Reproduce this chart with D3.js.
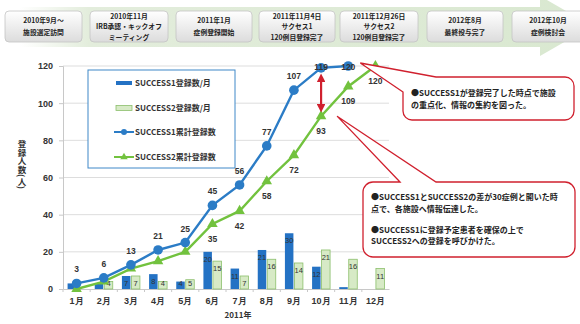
<!DOCTYPE html>
<html>
<head>
<meta charset="utf-8">
<script src="https://cdn.jsdelivr.net/npm/d3@7/dist/d3.min.js"></script>
<style>
  html, body { margin: 0; padding: 0; background: #fff; }
  svg { display: block; font-family: "Noto Sans CJK JP", "Noto Sans", sans-serif; }
</style>
</head>
<body>
<svg id="chart" width="580" height="324"></svg>
<script>
// Monthly registrations and running totals, 2011
const months = ["1月","2月","3月","4月","5月","6月","7月","8月","9月","10月","11月","12月"];
const s1Monthly = [3, 3, 7, 8, 4, 20, 11, 21, 30, 12, 1, 0];
const s2Monthly = [0, 4, 7, 4, 5, 15, 7, 16, 14, 21, 16, 11];
const s1Cumulative = [3, 6, 13, 21, 25, 45, 56, 77, 107, 119, 120];
const s2Cumulative = [0, 4, 11, 15, 20, 35, 42, 58, 72, 93, 109, 120];
const yTicks = [0, 20, 40, 60, 80, 100, 120];

// Project milestones shown in the arrow band
const milestones = [
  ["2010年9月～", "施設選定訪問"],
  ["2010年11月", "IRB承認・キックオフ", "ミーティング"],
  ["2011年1月", "症例登録開始"],
  ["2011年11月4日", "サクセス1", "120例目登録完了"],
  ["2011年12月26日", "サクセス2", "120例目登録完了"],
  ["2012年8月", "最終投与完了"],
  ["2012年10月", "症例検討会"]
];
const milestoneX = [5, 90, 176, 259, 340, 427, 512];
const milestoneW = [77, 78, 76, 76, 78, 76, 72];

const legendLabels = ["SUCCESS1登録数/月", "SUCCESS2登録数/月", "SUCCESS1累計登録数", "SUCCESS2累計登録数"];

const noteTop = ["●SUCCESS1が登録完了した時点で施設", "の重点化、情報の集約を図った。"];
const noteBottom = ["●SUCCESS1とSUCCESS2の差が30症例と開いた時", "点で、各施設へ情報伝達した。", "", "●SUCCESS1に登録予定患者を確保の上で", "SUCCESS2への登録を呼びかけた。"];

const blue = "#2b7cc6", blueBar = "#2472c4";
const green = "#72c23e", greenFill = "#d7eac6", greenStroke = "#8cbf6c";
const red = "#d0202e";

const svg = d3.select("#chart");
const defs = svg.append("defs");

// ---------- milestone band ----------
const bandGrad = defs.append("linearGradient").attr("id", "band").attr("x1", 0).attr("x2", 1);
bandGrad.append("stop").attr("offset", "0%").attr("stop-color", "#ffffff");
bandGrad.append("stop").attr("offset", "12%").attr("stop-color", "#e3eddc");
bandGrad.append("stop").attr("offset", "100%").attr("stop-color", "#d9e8d0");
svg.append("path")
  .attr("d", "M20,7 L540,7 L540,-4 L592,26 L540,56 L540,47 L20,47 Z")
  .attr("fill", "url(#band)");

const boxGrad = defs.append("linearGradient").attr("id", "box").attr("x1", 0).attr("x2", 0).attr("y1", 0).attr("y2", 1);
boxGrad.append("stop").attr("offset", "0%").attr("stop-color", "#ffffff");
boxGrad.append("stop").attr("offset", "100%").attr("stop-color", "#dcdcdc");

const ms = svg.append("g").selectAll("g").data(milestones).join("g")
  .attr("transform", (d, i) => `translate(${milestoneX[i]},11)`);
ms.append("rect")
  .attr("width", (d, i) => milestoneW[i]).attr("height", 31).attr("rx", 4)
  .attr("fill", "url(#box)").attr("stroke", "#c4c4c4").attr("stroke-width", 0.8);
ms.each(function (d, i) {
  const g = d3.select(this);
  const lineGap = d.length === 3 ? 10.5 : 12;
  const start = 15.5 - (d.length - 1) * lineGap / 2 + 2.5;
  d.forEach((t, j) => {
    g.append("text")
      .attr("x", milestoneW[i] / 2).attr("y", start + j * lineGap)
      .attr("text-anchor", "middle").attr("font-size", 6.8).attr("font-weight", "bold")
      .attr("fill", "#222").text(t);
  });
});

// ---------- scales ----------
const x = d3.scaleBand().domain(months).range([63, 389]).padding(0);
const y = d3.scaleLinear().domain([0, 120]).range([289, 66]);
const cx = m => x(m) + x.bandwidth() / 2;

// grid
svg.append("g").selectAll("line").data(yTicks.filter(t => t > 0)).join("line")
  .attr("x1", 63).attr("x2", 389).attr("y1", d => y(d)).attr("y2", d => y(d))
  .attr("stroke", "#d4d4d4").attr("stroke-width", 0.8);

// axes
const yAxis = svg.append("g").attr("transform", "translate(63,0)")
  .call(d3.axisLeft(y).tickValues(yTicks).tickSize(4).tickPadding(6));
yAxis.select(".domain").attr("stroke", "#c8c8c8");
yAxis.selectAll(".tick line").attr("stroke", "#c8c8c8");
yAxis.selectAll("text").attr("font-size", 9).attr("font-weight", "bold").attr("fill", "#333")
  .attr("font-family", "Liberation Sans, Arial, sans-serif");

const xAxis = svg.append("g").attr("transform", "translate(0,289)")
  .call(d3.axisBottom(x).tickSize(0).tickPadding(9));
xAxis.select(".domain").attr("stroke", "#c8c8c8");
xAxis.selectAll("text").attr("font-size", 9).attr("font-weight", "bold").attr("fill", "#333");
svg.append("g").selectAll("line").data(months).join("line")
  .attr("x1", d => x(d)).attr("x2", d => x(d)).attr("y1", 289).attr("y2", 292)
  .attr("stroke", "#c8c8c8");

svg.append("text").attr("x", 238).attr("y", 318).attr("text-anchor", "middle")
  .attr("font-size", 8).attr("font-weight", "bold").attr("fill", "#333").text("2011年");

svg.append("text")
  .attr("x", 22).attr("y", 140)
  .attr("style", "writing-mode: vertical-rl")
  .attr("font-size", 8.5).attr("font-weight", "bold").attr("fill", "#333")
  .text("登録人数(人)");

// ---------- monthly bars ----------
const barW = 8.5;
svg.append("g").selectAll("rect").data(s1Monthly).join("rect")
  .attr("x", (d, i) => cx(months[i]) - barW - 0.5).attr("width", barW)
  .attr("y", d => y(d)).attr("height", d => y(0) - y(d))
  .attr("fill", blueBar);
svg.append("g").selectAll("rect").data(s2Monthly).join("rect")
  .attr("x", (d, i) => cx(months[i]) + 0.5).attr("width", barW)
  .attr("y", d => y(d)).attr("height", d => y(0) - y(d))
  .attr("fill", greenFill).attr("stroke", greenStroke).attr("stroke-width", 0.8);

const barLabel = (vals, dx) => svg.append("g").selectAll("text")
  .data(vals.map((v, i) => ({ v, i })).filter(d => d.v >= 4))
  .join("text")
  .attr("x", d => cx(months[d.i]) + dx)
  .attr("y", d => Math.min(y(d.v) + 10, 286))
  .attr("text-anchor", "middle").attr("font-size", 7.5).attr("fill", "#333")
  .attr("font-family", "Liberation Sans, Arial, sans-serif")
  .text(d => d.v);
barLabel(s1Monthly, -4.75);
barLabel(s2Monthly, 4.75);

// ---------- cumulative lines ----------
const line = d3.line().x(d => cx(d.m)).y(d => y(d.v));
const s1Pts = s1Cumulative.map((v, i) => ({ m: months[i], v }));
const s2Pts = s2Cumulative.map((v, i) => ({ m: months[i], v }));

svg.append("path").datum(s2Pts).attr("d", line)
  .attr("fill", "none").attr("stroke", green).attr("stroke-width", 2.4);
svg.append("path").datum(s1Pts).attr("d", line)
  .attr("fill", "none").attr("stroke", blue).attr("stroke-width", 2.4);

const tri = d3.symbol().type(d3.symbolTriangle).size(48);
svg.append("g").selectAll("path").data(s2Pts).join("path")
  .attr("transform", d => `translate(${cx(d.m)},${y(d.v)})`)
  .attr("d", tri).attr("fill", green);
svg.append("g").selectAll("circle").data(s1Pts).join("circle")
  .attr("cx", d => cx(d.m)).attr("cy", d => y(d.v)).attr("r", 4.8).attr("fill", blue);

// value labels (kept inside the plot top, so the last ones sit on their markers)
svg.append("g").selectAll("text").data(s1Pts).join("text")
  .attr("x", d => cx(d.m)).attr("y", d => Math.max(y(d.v) - 11, 70))
  .attr("text-anchor", "middle").attr("font-size", 8.5).attr("font-weight", "bold").attr("fill", "#333")
  .attr("font-family", "Liberation Sans, Arial, sans-serif")
  .text(d => d.v);
svg.append("g").selectAll("text").data(s2Pts.filter(d => d.v >= 35)).join("text")
  .attr("x", d => cx(d.m)).attr("y", d => y(d.v) + 18)
  .attr("text-anchor", "middle").attr("font-size", 8.5).attr("font-weight", "bold").attr("fill", "#333")
  .attr("font-family", "Liberation Sans, Arial, sans-serif")
  .text(d => d.v);

// ---------- legend ----------
const lg = svg.append("g");
lg.append("rect").attr("x", 88).attr("y", 70).attr("width", 147).attr("height", 98)
  .attr("fill", "#fff").attr("stroke", "#3f88c8").attr("stroke-width", 1);
const ly = [83, 108, 132, 157];
lg.append("rect").attr("x", 116).attr("y", ly[0] - 2).attr("width", 16).attr("height", 4).attr("fill", blueBar);
lg.append("rect").attr("x", 116).attr("y", ly[1] - 2.5).attr("width", 16).attr("height", 5)
  .attr("fill", greenFill).attr("stroke", greenStroke).attr("stroke-width", 0.8);
lg.append("line").attr("x1", 114).attr("x2", 134).attr("y1", ly[2]).attr("y2", ly[2])
  .attr("stroke", blue).attr("stroke-width", 2);
lg.append("circle").attr("cx", 124).attr("cy", ly[2]).attr("r", 3).attr("fill", blue);
lg.append("line").attr("x1", 114).attr("x2", 134).attr("y1", ly[3]).attr("y2", ly[3])
  .attr("stroke", green).attr("stroke-width", 2);
lg.append("path").attr("transform", `translate(124,${ly[3]})`)
  .attr("d", d3.symbol().type(d3.symbolTriangle).size(24)).attr("fill", green);
lg.selectAll("text.l").data(legendLabels).join("text").attr("class", "l")
  .attr("x", 135).attr("y", (d, i) => ly[i] + 3)
  .attr("font-size", 8).attr("font-weight", "bold").attr("fill", "#333")
  .text(d => d);

// ---------- annotations ----------
// gap marker between the two cumulative totals in October
const gapX = cx("10月");
defs.append("marker").attr("id", "arrowHead").attr("viewBox", "0 0 10 10")
  .attr("refX", 5).attr("refY", 5).attr("markerWidth", 4).attr("markerHeight", 4)
  .attr("orient", "auto-start-reverse")
  .append("path").attr("d", "M0,0 L10,5 L0,10 Z").attr("fill", red);
svg.append("line").attr("x1", gapX).attr("x2", gapX)
  .attr("y1", y(s1Cumulative[9]) + 10).attr("y2", y(s2Cumulative[9]) - 8)
  .attr("stroke", red).attr("stroke-width", 2.2)
  .attr("marker-start", "url(#arrowHead)").attr("marker-end", "url(#arrowHead)");

// callout boxes: rounded rectangle with a pointer to a chart point
function callout(x0, y0, w, h, r, bx1, bx2, tipX, tipY, leftSide) {
  const p = d3.path();
  if (leftSide) {
    // pointer leaves from the top-left corner region
    p.moveTo(x0, y0 + r + 6);
    p.lineTo(tipX, tipY);
    p.lineTo(bx2, y0);
  } else {
    p.moveTo(bx1, y0);
    p.lineTo(tipX, tipY);
    p.lineTo(bx2, y0);
  }
  p.lineTo(x0 + w - r, y0);
  p.arcTo(x0 + w, y0, x0 + w, y0 + r, r);
  p.lineTo(x0 + w, y0 + h - r);
  p.arcTo(x0 + w, y0 + h, x0 + w - r, y0 + h, r);
  p.lineTo(x0 + r, y0 + h);
  p.arcTo(x0, y0 + h, x0, y0 + h - r, r);
  if (leftSide) {
    p.lineTo(x0, y0 + r + 6);
  } else {
    p.lineTo(x0, y0 + r);
    p.arcTo(x0, y0, x0 + r, y0, r);
    p.closePath();
  }
  if (leftSide) p.closePath();
  return p.toString();
}

svg.append("path")
  .attr("d", callout(403, 77, 171, 43, 9, 0, 436, cx("11月") + 12, y(120) - 3, true))
  .attr("fill", "#fff").attr("stroke", red).attr("stroke-width", 1.3);
noteTop.forEach((t, i) => {
  svg.append("text").attr("x", 411).attr("y", 96 + i * 12)
    .attr("font-size", 8).attr("font-weight", "bold").attr("fill", "#222").text(t);
});

svg.append("path")
  .attr("d", callout(363, 182, 212, 75, 10, 400, 436, gapX + 16, y(s2Cumulative[9]) + 0, false))
  .attr("fill", "#fff").attr("stroke", red).attr("stroke-width", 1.3);
noteBottom.forEach((t, i) => {
  if (!t) return;
  svg.append("text").attr("x", 371).attr("y", 200 + i * 11.5 - (i > 2 ? 2 : 0))
    .attr("font-size", 8).attr("font-weight", "bold").attr("fill", "#222").text(t);
});
</script>
</body>
</html>
